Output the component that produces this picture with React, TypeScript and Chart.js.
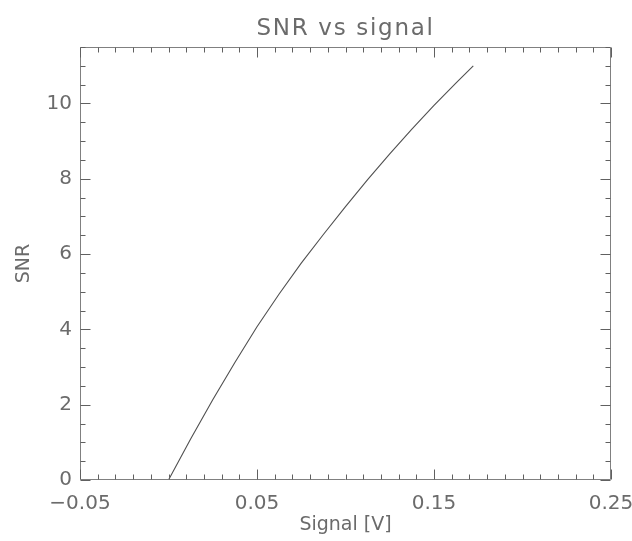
import React, { useEffect, useRef } from 'react';
import { Chart, registerables } from 'chart.js';

Chart.register(...registerables);

// Data
const signalV = [0.0, 0.0125, 0.025, 0.0375, 0.05, 0.0625, 0.075, 0.0875, 0.1, 0.1125, 0.125, 0.1375, 0.15, 0.1625, 0.1722];
const snrValues = [0.0, 1.09, 2.13, 3.12, 4.07, 4.94, 5.76, 6.52, 7.26, 7.98, 8.66, 9.32, 9.95, 10.55, 11.0];

const xTickLabels = ['\u22120.05', '0.05', '0.15', '0.25'];
const yTickLabels = ['0', '2', '4', '6', '8', '10'];

const chartTitle = 'SNR vs signal';
const xAxisTitle = 'Signal [V]';
const yAxisTitle = 'SNR';

const X_MIN = -0.05;
const X_MAX = 0.25;
const X_MAJOR = 0.1;
const X_MINOR = 0.01;
const Y_MIN = 0;
const Y_MAX = 11.5;
const Y_MAJOR = 2;
const Y_MINOR = 0.5;

const FONT = "'DejaVu Sans', sans-serif";
const TEXT_COLOR = '#6b6b6b';

// Widen only the chart title (scales are drawn after the datasets, with normal spacing)
const titleSpacing = {
  id: 'titleSpacing',
  beforeDraw(chart: any) {
    chart.ctx.letterSpacing = '1.7px';
  },
  beforeDatasetsDraw(chart: any) {
    chart.ctx.letterSpacing = '0px';
  },
};

const boxTicks = {
  id: 'boxTicks',
  afterDatasetsDraw(chart: any) {
    const { ctx, chartArea, scales } = chart;
    const { left, right, top, bottom } = chartArea;
    const xs = scales.x;
    const ys = scales.y;
    const L = Math.round(left) + 0.5;
    const R = Math.round(right) - 0.5;
    const T = Math.round(top) + 0.5;
    const B = Math.round(bottom) - 0.5;
    ctx.save();
    ctx.letterSpacing = '0px';
    ctx.lineWidth = 1;
    ctx.strokeStyle = '#808080';
    ctx.beginPath();
    ctx.moveTo(L, T);
    ctx.lineTo(R, T);
    ctx.lineTo(R, B);
    ctx.lineTo(L, B);
    ctx.closePath();
    ctx.stroke();

    ctx.strokeStyle = '#606060';
    ctx.beginPath();
    const nx = Math.round((X_MAX - X_MIN) / X_MINOR);
    const perMajX = Math.round(X_MAJOR / X_MINOR);
    for (let i = 0; i <= nx; i++) {
      const v = X_MIN + i * X_MINOR;
      const px = Math.round(xs.getPixelForValue(v)) + 0.5;
      const len = i % perMajX === 0 ? 10 : 5;
      ctx.moveTo(px, B);
      ctx.lineTo(px, B - len);
      ctx.moveTo(px, T);
      ctx.lineTo(px, T + len);
    }
    const ny = Math.round((Y_MAX - Y_MIN) / Y_MINOR);
    const perMajY = Math.round(Y_MAJOR / Y_MINOR);
    for (let i = 0; i <= ny; i++) {
      const v = Y_MIN + i * Y_MINOR;
      const py = Math.round(ys.getPixelForValue(v)) + 0.5;
      const len = i % perMajY === 0 ? 10 : 5;
      ctx.moveTo(L, py);
      ctx.lineTo(L + len, py);
      ctx.moveTo(R, py);
      ctx.lineTo(R - len, py);
    }
    ctx.stroke();
    ctx.restore();
  },
};

export default function App() {
  const ref = useRef<HTMLCanvasElement>(null);

  useEffect(() => {
    if (!ref.current) return;
    const chart = new Chart(ref.current, {
      type: 'line',
      data: {
        datasets: [
          {
            label: yAxisTitle,
            data: signalV.map((s, i) => ({ x: s, y: snrValues[i] })),
            borderColor: '#505050',
            borderWidth: 1.1,
            pointRadius: 0,
            tension: 0,
            fill: false,
          },
        ],
      },
      options: {
        animation: false,
        responsive: true,
        maintainAspectRatio: false,
        layout: { padding: { left: 0, right: 0, top: 0, bottom: 0 } },
        plugins: {
          legend: { display: false },
          tooltip: { enabled: false },
          title: {
            display: true,
            text: chartTitle,
            fullSize: false,
            color: TEXT_COLOR,
            font: { family: FONT, size: 23, weight: 'normal' },
            padding: { top: 15, bottom: 4.4 },
          },
        },
        scales: {
          x: {
            type: 'linear',
            min: X_MIN,
            max: X_MAX,
            grid: { display: false, drawTicks: false, tickLength: 0, z: 1 },
            border: { display: false, z: 1 },
            ticks: {
              z: 1,
              stepSize: X_MAJOR,
              includeBounds: false,
              color: TEXT_COLOR,
              font: { family: FONT, size: 20 },
              padding: 12,
              maxRotation: 0,
              autoSkip: false,
              callback: (_v: any, i: number) => xTickLabels[i],
            },
            title: {
              display: true,
              text: xAxisTitle,
              color: TEXT_COLOR,
              font: { family: FONT, size: 19 },
              padding: { top: 0, bottom: 5 },
            },
            afterFit: (s: any) => {
              s.height = 61;
              s.paddingRight = 21;
            },
          },
          y: {
            type: 'linear',
            min: Y_MIN,
            max: Y_MAX,
            grid: { display: false, drawTicks: false, tickLength: 0, z: 1 },
            border: { display: false, z: 1 },
            ticks: {
              z: 1,
              stepSize: Y_MAJOR,
              includeBounds: false,
              color: TEXT_COLOR,
              font: { family: FONT, size: 20 },
              padding: 8,
              autoSkip: false,
              callback: (_v: any, i: number) => yTickLabels[i],
            },
            title: {
              display: true,
              text: yAxisTitle,
              color: TEXT_COLOR,
              font: { family: FONT, size: 19 },
              padding: { top: 13, bottom: 0 },
            },
            afterFit: (s: any) => {
              s.width = 80;
            },
          },
        },
      },
      plugins: [titleSpacing, boxTicks],
    });
    return () => chart.destroy();
  }, []);

  return (
    <div style={{ position: 'absolute', left: 0, top: 0, width: 632, height: 541, background: '#fff' }}>
      <canvas ref={ref} />
    </div>
  );
}
